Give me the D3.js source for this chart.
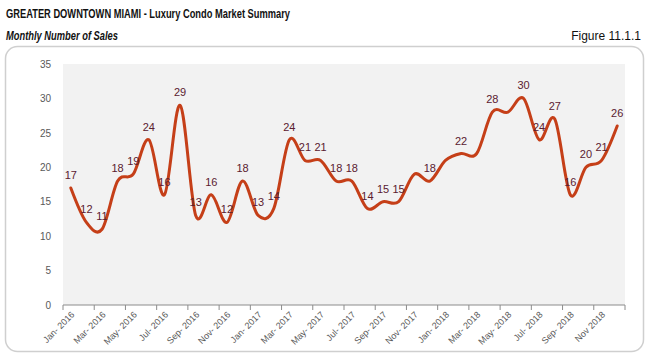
<!DOCTYPE html>
<html>
<head>
<meta charset="utf-8">
<script src="https://cdn.jsdelivr.net/npm/d3@7"></script>
<style>
  body { margin: 0; background: #fff; }
  svg { display: block; }
</style>
</head>
<body>
<div id="vis"></div>
<script>
const FRAME_WIDTH = 651;
const FRAME_HEIGHT = 362;
const PLOT = {left: 63, right: 625, top: 64, bottom: 305};

// data
const months = ["Jan-16","Feb-16","Mar-16","Apr-16","May-16","Jun-16","Jul-16","Aug-16","Sep-16","Oct-16","Nov-16","Dec-16",
                "Jan-17","Feb-17","Mar-17","Apr-17","May-17","Jun-17","Jul-17","Aug-17","Sep-17","Oct-17","Nov-17","Dec-17",
                "Jan-18","Feb-18","Mar-18","Apr-18","May-18","Jun-18","Jul-18","Aug-18","Sep-18","Oct-18","Nov-18","Dec-18"];
const sales = [17, 12, 11, 18, 19, 24, 16, 29, 13, 16, 12, 18,
               13, 14, 24, 21, 21, 18, 18, 14, 15, 15, 19, 18,
               21, 22, 22, 28, 28, 30, 24, 27, 16, 20, 21, 26];
// points whose value label is not shown in the picture
const unlabelled = ["Nov-17", "Jan-18", "Mar-18", "May-18"];
const tickLabels = ["Jan- 2016","Mar- 2016","May- 2016","Jul- 2016","Sep- 2016","Nov- 2016",
                    "Jan- 2017","Mar- 2017","May- 2017","Jul- 2017","Sep- 2017","Nov- 2017",
                    "Jan- 2018","Mar- 2018","May- 2018","Jul- 2018","Sep- 2018","Nov 2018"];
const yTicks = [0, 5, 10, 15, 20, 25, 30, 35];

const svg = d3.select("#vis")
  .append("svg")
    .attr("width", FRAME_WIDTH)
    .attr("height", FRAME_HEIGHT);

// headings
svg.append("text")
  .attr("x", 6).attr("y", 18)
  .attr("font-family", "'Liberation Sans Narrow', 'Liberation Sans', Arial, sans-serif")
  .attr("font-weight", "bold")
  .attr("font-size", 12.5)
  .attr("textLength", 284)
  .attr("lengthAdjust", "spacingAndGlyphs")
  .attr("fill", "#111")
  .text("GREATER DOWNTOWN MIAMI - Luxury Condo Market Summary");

svg.append("text")
  .attr("x", 6).attr("y", 40)
  .attr("font-family", "'Liberation Sans Narrow', 'Liberation Sans', Arial, sans-serif")
  .attr("font-weight", "bold")
  .attr("font-style", "italic")
  .attr("font-size", 12.5)
  .attr("textLength", 112)
  .attr("lengthAdjust", "spacingAndGlyphs")
  .attr("fill", "#111")
  .text("Monthly Number of Sales");

svg.append("text")
  .attr("x", 641).attr("y", 40)
  .attr("text-anchor", "end")
  .attr("font-family", "'Liberation Sans Narrow', 'Liberation Sans', Arial, sans-serif")
  .attr("font-size", 12)
  .attr("fill", "#111")
  .text("Figure 11.1.1");

// chart frame
svg.append("rect")
  .attr("x", 5.5).attr("y", 46.5)
  .attr("width", 638).attr("height", 305)
  .attr("rx", 12)
  .attr("fill", "#fff")
  .attr("stroke", "#cfcfcf")
  .attr("stroke-width", 1.5);

svg.append("rect")
  .attr("x", PLOT.left).attr("y", PLOT.top)
  .attr("width", PLOT.right - PLOT.left)
  .attr("height", PLOT.bottom - PLOT.top)
  .attr("fill", "#f2f2f2");

const X_SCALE = d3.scaleBand()
  .domain(months)
  .range([PLOT.left, PLOT.right]);

const Y_SCALE = d3.scaleLinear()
  .domain([0, 35])
  .range([PLOT.bottom, PLOT.top]);

const cx = (m) => X_SCALE(m) + X_SCALE.bandwidth() / 2;

// y axis labels only
const yAxis = svg.append("g")
  .attr("transform", `translate(${PLOT.left - 12},0)`)
  .call(d3.axisLeft(Y_SCALE).tickValues(yTicks).tickSize(0).tickPadding(0));
yAxis.select(".domain").remove();
yAxis.selectAll("text")
  .attr("font-family", "'Liberation Sans', Arial, sans-serif")
  .attr("font-size", 10)
  .attr("fill", "#595959");

// x axis: tick marks between every second month
const tickMonths = months.filter((d, i) => i % 2 === 0);
const xAxis = svg.append("g")
  .attr("transform", `translate(0,${PLOT.bottom})`);
xAxis.append("line")
  .attr("x1", PLOT.left).attr("x2", PLOT.right)
  .attr("stroke", "#8c8c8c").attr("stroke-width", 1);
xAxis.selectAll("line.tick")
  .data(tickMonths.concat(["end"]))
  .enter()
  .append("line")
    .attr("class", "tick")
    .attr("x1", (d) => d === "end" ? PLOT.right : X_SCALE(d))
    .attr("x2", (d) => d === "end" ? PLOT.right : X_SCALE(d))
    .attr("y1", 0).attr("y2", 5)
    .attr("stroke", "#8c8c8c").attr("stroke-width", 1);
xAxis.selectAll("text")
  .data(tickMonths)
  .enter()
  .append("text")
    .attr("transform", (d) => `translate(${cx(d) + 2},${8}) rotate(-45)`)
    .attr("text-anchor", "end")
    .attr("dy", "0.35em")
    .attr("font-family", "'Liberation Sans', Arial, sans-serif")
    .attr("font-size", 9)
    .attr("fill", "#595959")
    .text((d, i) => tickLabels[i]);

// smoothed line
const points = months.map((m, i) => ({m: m, v: sales[i]}));
const line = d3.line()
  .x((d) => cx(d.m))
  .y((d) => Y_SCALE(d.v))
  .curve(d3.curveCardinal.tension(0));

svg.append("path")
  .datum(points)
  .attr("d", line)
  .attr("fill", "none")
  .attr("stroke", "#c53f18")
  .attr("stroke-width", 3)
  .attr("stroke-linejoin", "round")
  .attr("stroke-linecap", "round");

// value labels
svg.selectAll("text.val")
  .data(points.filter((d) => !unlabelled.includes(d.m)))
  .enter()
  .append("text")
    .attr("class", "val")
    .attr("x", (d) => cx(d.m))
    .attr("y", (d) => Y_SCALE(d.v) - 9)
    .attr("text-anchor", "middle")
    .attr("font-family", "'Liberation Sans', Arial, sans-serif")
    .attr("font-size", 11)
    .attr("fill", "#5a2030")
    .text((d) => d.v);
</script>
</body>
</html>
